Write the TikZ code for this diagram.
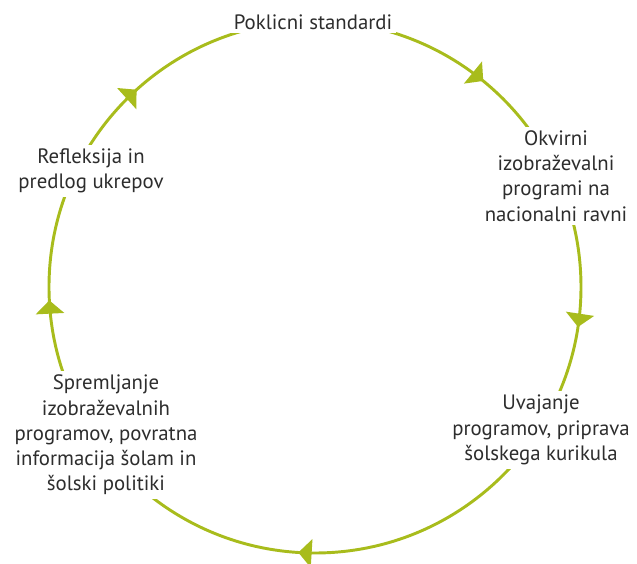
\documentclass[tikz,border=0pt]{standalone}
\usepackage{fontspec}
\setmainfont{PT Sans}
\usetikzlibrary{arrows.meta, decorations.markings}
\definecolor{ciklus}{RGB}{168,188,28}
\definecolor{besedilo}{RGB}{45,45,45}
\tikzset{
  korak/.style={fill=white, align=center, inner sep=3pt, text=besedilo,
    font=\fontsize{15.6}{18.9}\selectfont},
  puscica/.style={ciklus, line width=2.2pt, postaction={decorate}},
}

\begin{document}
\begin{tikzpicture}[x=0.75pt, y=0.75pt]
        \useasboundingbox (0,0) rectangle (637,564);

        % Draw the cycle with its arrows (clockwise)
        \coordinate (sredisce) at (315,277);
        \draw[puscica, decoration={markings,
            mark=at position 0.109 with {\arrow{Triangle[length=10pt, width=21pt]}},
            mark=at position 0.274 with {\arrow{Triangle[length=10pt, width=21pt]}},
            mark=at position 0.510 with {\arrow{Triangle[length=10pt, width=21pt]}},
            mark=at position 0.742 with {\arrow{Triangle[length=10pt, width=21pt]}},
            mark=at position 0.883 with {\arrow{Triangle[length=10pt, width=21pt]}}}]
            (sredisce) ++(90:266) arc[start angle=90, end angle=-270, radius=266];

        % Steps of the cycle
        \node[korak] (poklicni) at (313,542) {Poklicni standardi};
        \node[korak] (okvirni) at (556,388) {Okvirni\\izobraževalni\\programi na\\nacionalni ravni};
        \node[korak] (uvajanje) at (541,134) {Uvajanje\\programov, priprava\\šolskega kurikula};
        \node[korak] (spremljanje) at (106,129) {Spremljanje\\izobraževalnih\\programov, povratna\\informacija šolam in\\šolski politiki};
        \node[korak] (refleksija) at (91,393) {Refleksija in\\predlog ukrepov};
\end{tikzpicture}
\end{document}
